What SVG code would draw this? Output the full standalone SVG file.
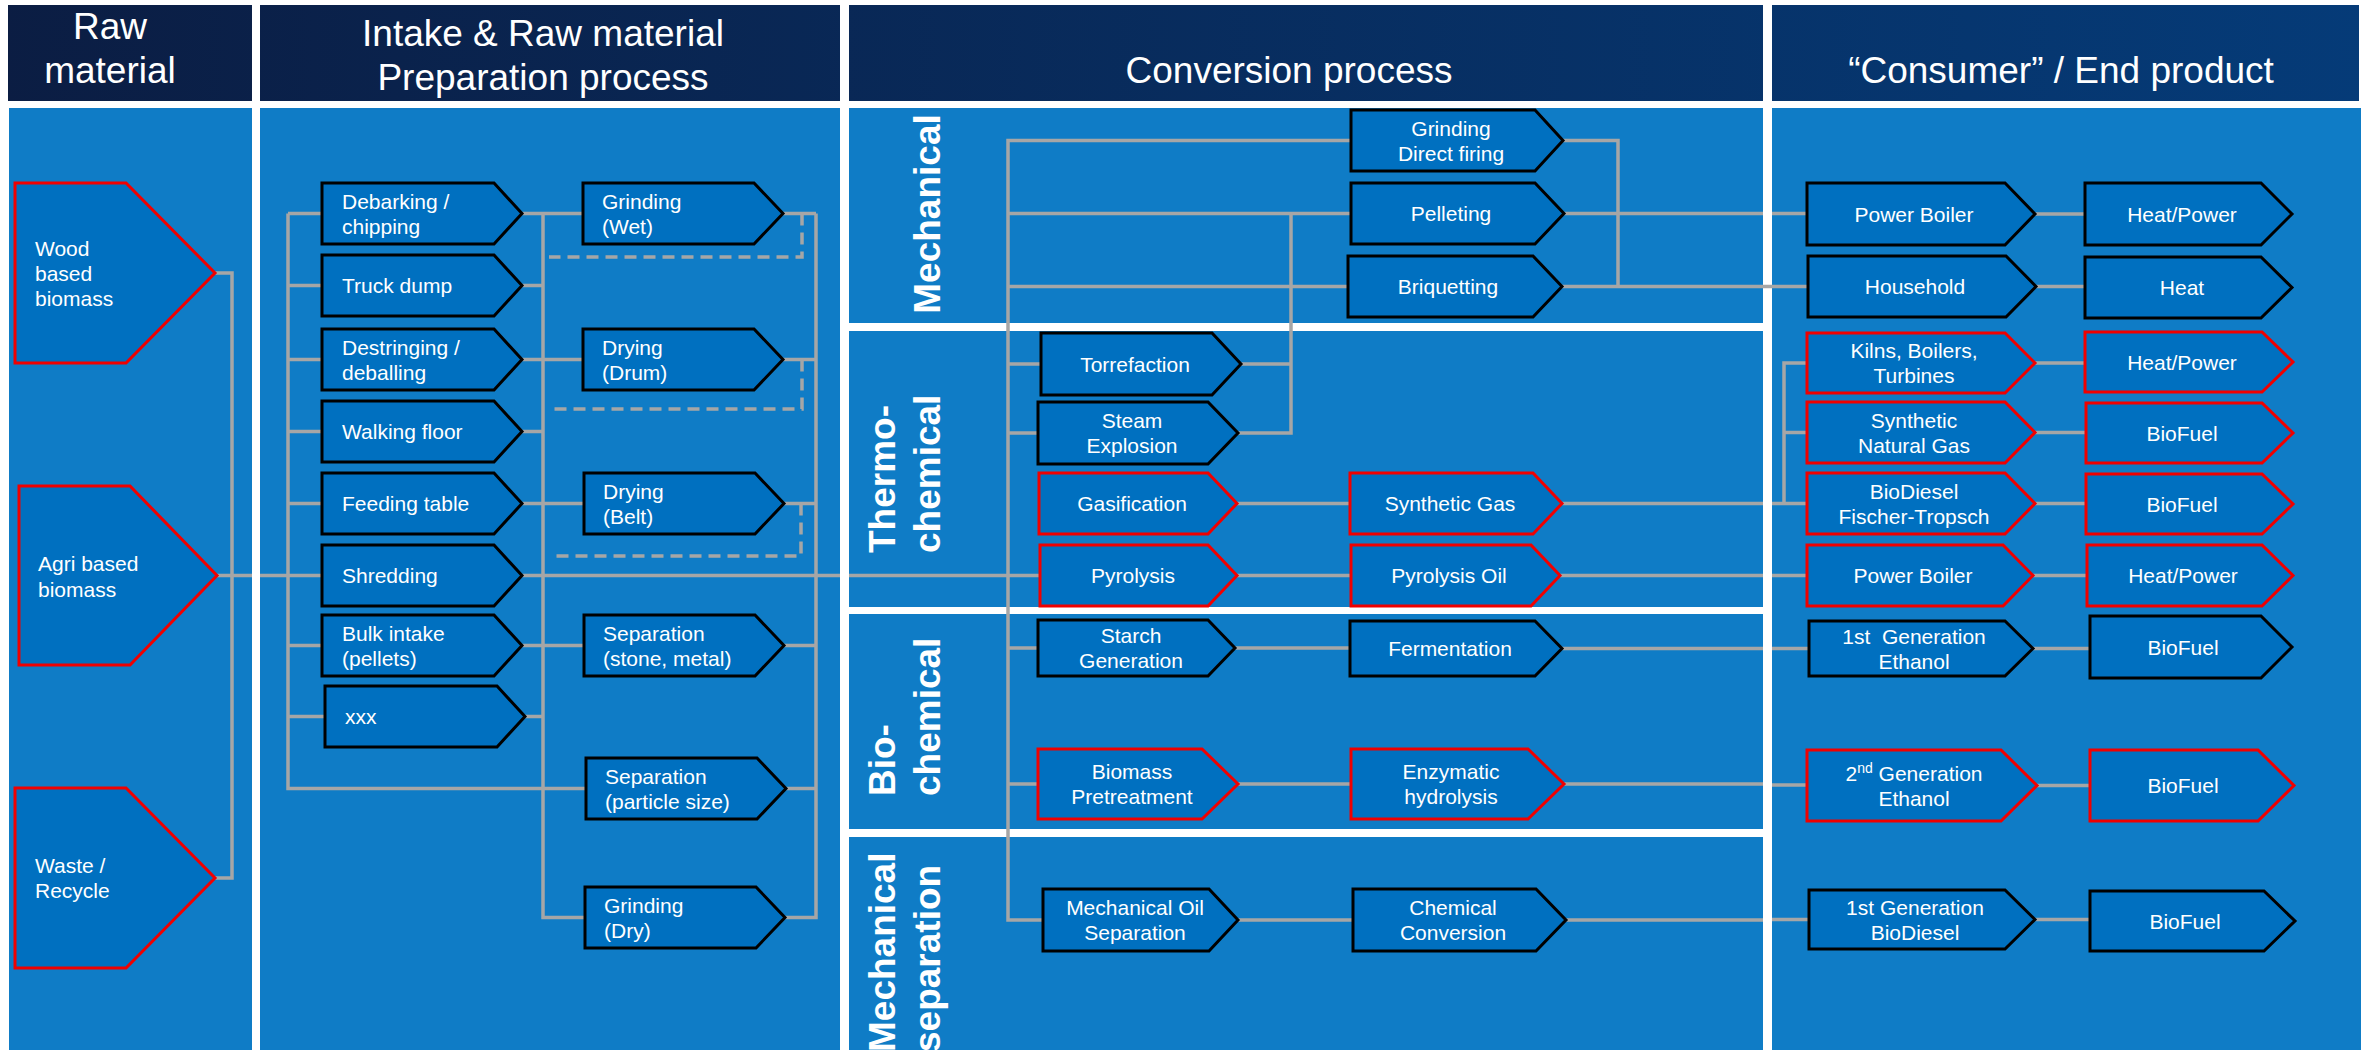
<svg xmlns="http://www.w3.org/2000/svg" width="2366" height="1050" viewBox="0 0 2366 1050">
<defs>
<linearGradient id="hg" gradientUnits="userSpaceOnUse" x1="0" y1="0" x2="2366" y2="0">
<stop offset="0" stop-color="#0b1d43"/>
<stop offset="1" stop-color="#053b78"/>
</linearGradient>
<style>
text{font-family:"Liberation Sans",Arial,sans-serif;fill:#fff}
.hdr{fill:url(#hg)}
.panel{fill:#0f7cc6}
.ht{font-size:37px;text-anchor:middle}
.band{font-size:37px;font-weight:bold}
.node path{fill:#0070c0;stroke:#000;stroke-width:3}
.node.red path{stroke:#f00000}
.node text{font-size:21px}
.c{text-anchor:middle}
.ln{fill:none;stroke:#a6a6a6;stroke-width:3.5}
.dash{stroke-dasharray:12 7}
</style>
</defs>
<rect width="2366" height="1050" fill="#fff"/>
<g id="headers">
<rect class="hdr" x="8" y="5" width="244" height="96"/>
<rect class="hdr" x="260" y="5" width="580" height="96"/>
<rect class="hdr" x="849" y="5" width="914" height="96"/>
<rect class="hdr" x="1772" y="5" width="587" height="96"/>
<text class="ht" x="110" y="39">Raw</text>
<text class="ht" x="110" y="83">material</text>
<text class="ht" x="543" y="46">Intake &amp; Raw material</text>
<text class="ht" x="543" y="90">Preparation process</text>
<text class="ht" x="1289" y="83">Conversion process</text>
<text class="ht" x="2061" y="83">“Consumer” / End product</text>
</g>
<g id="panels">
<rect class="panel" x="9" y="108" width="243" height="942"/>
<rect class="panel" x="260" y="108" width="580" height="942"/>
<rect class="panel" x="849" y="108" width="914" height="215"/>
<rect class="panel" x="849" y="331" width="914" height="276"/>
<rect class="panel" x="849" y="614" width="914" height="215"/>
<rect class="panel" x="849" y="837" width="914" height="213"/>
<rect class="panel" x="1772" y="108" width="589" height="942"/>
</g>
<g id="band-labels">
<text class="band" text-anchor="middle" transform="translate(940,214) rotate(-90)">Mechanical</text>
<text class="band" transform="translate(895,553) rotate(-90)">Thermo-</text>
<text class="band" transform="translate(940,553) rotate(-90)">chemical</text>
<text class="band" transform="translate(895,796) rotate(-90)">Bio-</text>
<text class="band" transform="translate(940,796) rotate(-90)">chemical</text>
<text class="band" transform="translate(895,1052) rotate(-90)">Mechanical</text>
<text class="band" transform="translate(940,1052) rotate(-90)">separation</text>
</g>
<g id="connectors">
<path class="ln" d="M215,273 H232 V878 H215"/>
<path class="ln" d="M217,575.5 H252 M260,575.5 H322"/>
<path class="ln" d="M288,213.5 V788.5 H586 M288,213.5 H322 M288,285.5 H322 M288,359.5 H322 M288,431.5 H322 M288,503.5 H322 M288,645.5 H322 M288,716.5 H325"/>
<path class="ln" d="M543,213.5 V917.5 H585 M522,213.5 H583 M522,285.5 H543 M522,359.5 H583 M522,431.5 H543 M522,503.5 H584 M522,645.5 H584 M525,716.5 H543"/>
<path class="ln" d="M816,213.5 V917.5 H785 M783,213.5 H816 M783,359.5 H816 M784,503.5 H816 M784,645.5 H816 M786,788.5 H816"/>
<path class="ln" d="M522,575.5 H840 M849,575.5 H1040"/>
<path class="ln dash" d="M802,213.5 V257 H549 M802,359.5 V409 H550 M801,503.5 V556 H550"/>
<path class="ln" d="M1351,140.5 H1008 V920 H1043 M1008,213.5 H1351 M1008,286.5 H1348 M1008,364 H1041 M1008,433 H1038 M1008,648 H1038 M1008,784 H1038"/>
<path class="ln" d="M1241,364 H1291 M1238,433 H1291 V213.5"/>
<path class="ln" d="M1237,503.5 H1350 M1237,575.5 H1351 M1235,648 H1350 M1238,784 H1351 M1238,920 H1353"/>
<path class="ln" d="M1563,140.5 H1618 V286.5"/>
<path class="ln" d="M1564,213.5 H1763 M1772,213.5 H1807"/>
<path class="ln" d="M1562,286.5 H1808"/>
<path class="ln" d="M1562,503.5 H1763 M1772,503.5 H1807 M1784,503.5 V363 H1807 M1784,432.5 H1807"/>
<path class="ln" d="M1560,575.5 H1763 M1772,575.5 H1807"/>
<path class="ln" d="M1562,648.5 H1763 M1772,648.5 H1809"/>
<path class="ln" d="M1564,784 H1763 M1772,785 H1807"/>
<path class="ln" d="M1566,920 H1763 M1772,919.5 H1809"/>
<path class="ln" d="M2035,214 H2085 M2036,286.5 H2085 M2035,363 H2085 M2035,432.5 H2086 M2035,503.5 H2086 M2033,575.5 H2087 M2033,648.5 H2090 M2037,785.5 H2090 M2035,919.5 H2090"/>
</g>
<g id="n-wood" class="node red"><path d="M15,183 H126 L215,273 L126,363 H15 Z"/><text x="35" y="256">Wood</text><text x="35" y="281">based</text><text x="35" y="306">biomass</text></g>
<g id="n-agri" class="node red"><path d="M19,486 H130 L217,575.5 L130,665 H19 Z"/><text x="38" y="571">Agri based</text><text x="38" y="597">biomass</text></g>
<g id="n-waste" class="node red"><path d="M15,788 H126 L215,878 L126,968 H15 Z"/><text x="35" y="873">Waste /</text><text x="35" y="898">Recycle</text></g>
<g id="n-debarking" class="node"><path d="M322,183 H494 L522,213.5 L494,244 H322 Z"/><text x="342" y="208.5">Debarking /</text><text x="342" y="233.5">chipping</text></g>
<g id="n-truck" class="node"><path d="M322,255 H494 L522,285.5 L494,316 H322 Z"/><text x="342" y="293">Truck dump</text></g>
<g id="n-destringing" class="node"><path d="M322,329 H494 L522,359.5 L494,390 H322 Z"/><text x="342" y="354.5">Destringing /</text><text x="342" y="379.5">deballing</text></g>
<g id="n-walking" class="node"><path d="M322,401 H494 L522,431.5 L494,462 H322 Z"/><text x="342" y="439">Walking floor</text></g>
<g id="n-feeding" class="node"><path d="M322,473 H494 L522,503.5 L494,534 H322 Z"/><text x="342" y="511">Feeding table</text></g>
<g id="n-shredding" class="node"><path d="M322,545 H494 L522,575.5 L494,606 H322 Z"/><text x="342" y="583">Shredding</text></g>
<g id="n-bulk" class="node"><path d="M322,615 H494 L522,645.5 L494,676 H322 Z"/><text x="342" y="640.5">Bulk intake</text><text x="342" y="665.5">(pellets)</text></g>
<g id="n-xxx" class="node"><path d="M325,686 H497 L525,716.5 L497,747 H325 Z"/><text x="345" y="724">xxx</text></g>
<g id="n-grinding-wet" class="node"><path d="M583,183 H754 L783,213.5 L754,244 H583 Z"/><text x="602" y="208.5">Grinding</text><text x="602" y="233.5">(Wet)</text></g>
<g id="n-drying-drum" class="node"><path d="M583,329 H754 L783,359.5 L754,390 H583 Z"/><text x="602" y="354.5">Drying</text><text x="602" y="379.5">(Drum)</text></g>
<g id="n-drying-belt" class="node"><path d="M584,473 H755 L784,503.5 L755,534 H584 Z"/><text x="603" y="498.5">Drying</text><text x="603" y="523.5">(Belt)</text></g>
<g id="n-sep-stone" class="node"><path d="M584,615 H755 L784,645.5 L755,676 H584 Z"/><text x="603" y="640.5">Separation</text><text x="603" y="665.5">(stone, metal)</text></g>
<g id="n-sep-particle" class="node"><path d="M586,758 H757 L786,788.5 L757,819 H586 Z"/><text x="605" y="783.5">Separation</text><text x="605" y="808.5">(particle size)</text></g>
<g id="n-grinding-dry" class="node"><path d="M585,887 H756 L785,917.5 L756,948 H585 Z"/><text x="604" y="912.5">Grinding</text><text x="604" y="937.5">(Dry)</text></g>
<g id="n-grinding-df" class="node"><path d="M1351,110 H1535 L1563,140.5 L1535,171 H1351 Z"/><text class="c" x="1451" y="135.5">Grinding</text><text class="c" x="1451" y="160.5">Direct firing</text></g>
<g id="n-pelleting" class="node"><path d="M1351,183 H1535 L1564,213.5 L1535,244 H1351 Z"/><text class="c" x="1451" y="221">Pelleting</text></g>
<g id="n-briquetting" class="node"><path d="M1348,256 H1533 L1562,286.5 L1533,317 H1348 Z"/><text class="c" x="1448" y="294">Briquetting</text></g>
<g id="n-torrefaction" class="node"><path d="M1041,333 H1212 L1241,364 L1212,395 H1041 Z"/><text class="c" x="1135" y="371.5">Torrefaction</text></g>
<g id="n-steam" class="node"><path d="M1038,402 H1208 L1238,433 L1208,464 H1038 Z"/><text class="c" x="1132" y="428">Steam</text><text class="c" x="1132" y="453">Explosion</text></g>
<g id="n-gasification" class="node red"><path d="M1039,473 H1208 L1237,503.5 L1208,534 H1039 Z"/><text class="c" x="1132" y="511">Gasification</text></g>
<g id="n-pyrolysis" class="node red"><path d="M1040,545 H1208 L1237,575.5 L1208,606 H1040 Z"/><text class="c" x="1133" y="583">Pyrolysis</text></g>
<g id="n-syngas" class="node red"><path d="M1350,473 H1533 L1562,503.5 L1533,534 H1350 Z"/><text class="c" x="1450" y="511">Synthetic Gas</text></g>
<g id="n-pyrolysis-oil" class="node red"><path d="M1351,545 H1531 L1560,575.5 L1531,606 H1351 Z"/><text class="c" x="1449" y="583">Pyrolysis Oil</text></g>
<g id="n-starch" class="node"><path d="M1038,620 H1208 L1235,648 L1208,676 H1038 Z"/><text class="c" x="1131" y="643">Starch</text><text class="c" x="1131" y="668">Generation</text></g>
<g id="n-fermentation" class="node"><path d="M1350,621 H1535 L1562,648.5 L1535,676 H1350 Z"/><text class="c" x="1450" y="656">Fermentation</text></g>
<g id="n-pretreatment" class="node red"><path d="M1038,749 H1202 L1238,784 L1202,819 H1038 Z"/><text class="c" x="1132" y="779">Biomass</text><text class="c" x="1132" y="804">Pretreatment</text></g>
<g id="n-enzymatic" class="node red"><path d="M1351,749 H1528 L1564,784 L1528,819 H1351 Z"/><text class="c" x="1451" y="779">Enzymatic</text><text class="c" x="1451" y="804">hydrolysis</text></g>
<g id="n-mech-oil" class="node"><path d="M1043,889 H1209 L1238,920 L1209,951 H1043 Z"/><text class="c" x="1135" y="915">Mechanical Oil</text><text class="c" x="1135" y="940">Separation</text></g>
<g id="n-chemical" class="node"><path d="M1353,889 H1536 L1566,920 L1536,951 H1353 Z"/><text class="c" x="1453" y="915">Chemical</text><text class="c" x="1453" y="940">Conversion</text></g>
<g id="n-power-boiler-1" class="node"><path d="M1807,183 H2005 L2035,214 L2005,245 H1807 Z"/><text class="c" x="1914" y="221.5">Power Boiler</text></g>
<g id="n-heat-power-1" class="node"><path d="M2085,183 H2261 L2292,214 L2261,245 H2085 Z"/><text class="c" x="2182" y="221.5">Heat/Power</text></g>
<g id="n-household" class="node"><path d="M1808,256 H2006 L2036,286.5 L2006,317 H1808 Z"/><text class="c" x="1915" y="294">Household</text></g>
<g id="n-heat" class="node"><path d="M2085,257 H2261 L2292,287.5 L2261,318 H2085 Z"/><text class="c" x="2182" y="295">Heat</text></g>
<g id="n-kilns" class="node red"><path d="M1807,333 H2005 L2035,363 L2005,393 H1807 Z"/><text class="c" x="1914" y="358">Kilns, Boilers,</text><text class="c" x="1914" y="383">Turbines</text></g>
<g id="n-heat-power-2" class="node red"><path d="M2085,332 H2262 L2293,362 L2262,392 H2085 Z"/><text class="c" x="2182" y="369.5">Heat/Power</text></g>
<g id="n-sng" class="node red"><path d="M1807,402 H2005 L2035,432.5 L2005,463 H1807 Z"/><text class="c" x="1914" y="427.5">Synthetic</text><text class="c" x="1914" y="452.5">Natural Gas</text></g>
<g id="n-biofuel-1" class="node red"><path d="M2086,403 H2262 L2293,433 L2262,463 H2086 Z"/><text class="c" x="2182" y="440.5">BioFuel</text></g>
<g id="n-biodiesel-ft" class="node red"><path d="M1807,473 H2005 L2035,503.5 L2005,534 H1807 Z"/><text class="c" x="1914" y="498.5">BioDiesel</text><text class="c" x="1914" y="523.5">Fischer-Tropsch</text></g>
<g id="n-biofuel-2" class="node red"><path d="M2086,474 H2262 L2293,504 L2262,534 H2086 Z"/><text class="c" x="2182" y="511.5">BioFuel</text></g>
<g id="n-power-boiler-2" class="node red"><path d="M1807,545 H2003 L2033,575.5 L2003,606 H1807 Z"/><text class="c" x="1913" y="583">Power Boiler</text></g>
<g id="n-heat-power-3" class="node red"><path d="M2087,545 H2262 L2293,575.5 L2262,606 H2087 Z"/><text class="c" x="2183" y="583">Heat/Power</text></g>
<g id="n-1st-ethanol" class="node"><path d="M1809,621 H2005 L2033,648.5 L2005,676 H1809 Z"/><text class="c" x="1914" y="643.5" xml:space="preserve">1st  Generation</text><text class="c" x="1914" y="668.5">Ethanol</text></g>
<g id="n-biofuel-3" class="node"><path d="M2090,616 H2261 L2292,647 L2261,678 H2090 Z"/><text class="c" x="2183" y="654.5">BioFuel</text></g>
<g id="n-2nd-ethanol" class="node red"><path d="M1807,750 H2001 L2037,785.5 L2001,821 H1807 Z"/><text class="c" x="1914" y="780.5">2<tspan font-size="14" dy="-8">nd</tspan><tspan dy="8"> Generation</tspan></text><text class="c" x="1914" y="805.5">Ethanol</text></g>
<g id="n-biofuel-4" class="node red"><path d="M2090,750 H2258 L2294,785.5 L2258,821 H2090 Z"/><text class="c" x="2183" y="793">BioFuel</text></g>
<g id="n-1st-biodiesel" class="node"><path d="M1809,890 H2005 L2035,919.5 L2005,949 H1809 Z"/><text class="c" x="1915" y="914.5">1st Generation</text><text class="c" x="1915" y="939.5">BioDiesel</text></g>
<g id="n-biofuel-5" class="node"><path d="M2090,891 H2264 L2295,921 L2264,951 H2090 Z"/><text class="c" x="2185" y="928.5">BioFuel</text></g>
</svg>
